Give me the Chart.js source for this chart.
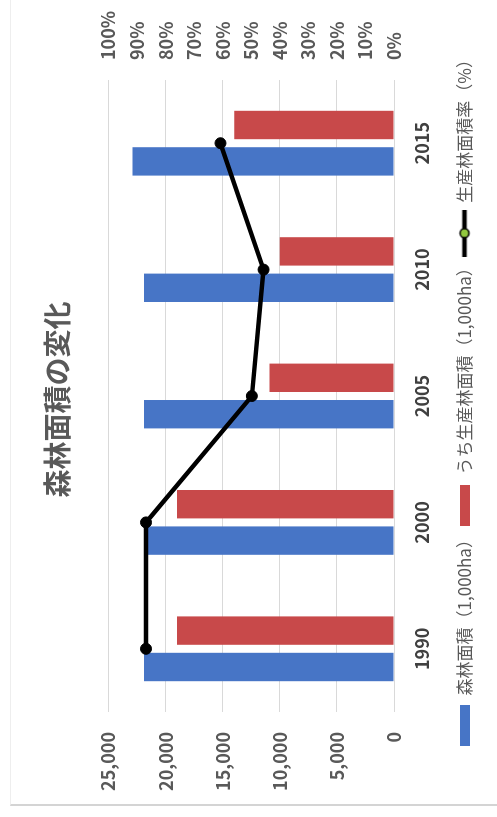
<!DOCTYPE html>
<html lang="ja">
<head>
    <meta charset="UTF-8">
    <meta name="viewport" content="width=device-width, initial-scale=1.0">
    <title>森林面積の変化</title>
    <script src="https://cdn.jsdelivr.net/npm/chart.js"></script>
    <style>
        html, body { margin: 0; padding: 0; width: 497px; height: 817px; overflow: hidden; background: #fff; }
        /* the chart is drawn landscape and turned a quarter turn to the left */
        #wrap { position: absolute; left: 0; top: 0; width: 817px; height: 497px;
                transform-origin: 0 0; transform: translate(0, 817px) rotate(-90deg); }
        #card { position: absolute; left: 11px; top: 10px; right: 0; bottom: 0;
                border-left: 2px solid #d4d4d4; border-top: 1px solid #eeeeee; }
        canvas { position: absolute; left: 0; top: 0; }
    </style>
</head>
<body>
    <div id="wrap">
        <div id="card"></div>
        <canvas id="forestChart" width="817" height="497"></canvas>
    </div>

    <script>
        // データ
        const years = ['1990', '2000', '2005', '2010', '2015'];
        const forestArea = [21900, 21900, 21900, 21900, 22900];      // 森林面積 (1,000ha)
        const productionArea = [19000, 19000, 10900, 10000, 14000];  // うち生産林面積 (1,000ha)
        const productionRate = [86.9, 86.9, 49.8, 45.7, 60.8];       // 生産林面積率 (%)

        const BLUE = '#4775C6';
        const RED = '#C8494A';
        const GRAY = '#595959';

        Chart.defaults.font.family = "'Noto Sans CJK JP', 'Noto Sans', sans-serif";

        // 凡例のマーカー
        function boxIcon(color) {
            const c = document.createElement('canvas');
            c.width = 41; c.height = 10;
            const g = c.getContext('2d');
            g.fillStyle = color;
            g.fillRect(0, 0, 41, 10);
            return c;
        }
        function lineIcon() {
            const c = document.createElement('canvas');
            c.width = 47; c.height = 14;
            const g = c.getContext('2d');
            g.strokeStyle = '#000';
            g.lineWidth = 4.5;
            g.beginPath(); g.moveTo(0, 7); g.lineTo(47, 7); g.stroke();
            g.beginPath(); g.arc(23.5, 7, 4.5, 0, Math.PI * 2);
            g.fillStyle = '#92C83E'; g.fill();
            g.lineWidth = 1.5; g.stroke();
            return c;
        }
        const icons = [boxIcon(BLUE), boxIcon(RED), lineIcon()];

        new Chart(document.getElementById('forestChart'), {
            type: 'bar',
            data: {
                labels: years,
                datasets: [{
                    label: '森林面積（1,000ha）',
                    data: forestArea,
                    backgroundColor: BLUE,
                    yAxisID: 'y',
                    order: 1,
                    categoryPercentage: 0.576,
                    barPercentage: 0.78
                }, {
                    label: 'うち生産林面積（1,000ha）',
                    data: productionArea,
                    backgroundColor: RED,
                    yAxisID: 'y',
                    order: 1,
                    categoryPercentage: 0.576,
                    barPercentage: 0.78
                }, {
                    type: 'line',
                    label: '生産林面積率（%）',
                    data: productionRate,
                    yAxisID: 'y2',
                    order: 0,
                    borderColor: '#000',
                    borderWidth: 4.5,
                    tension: 0,
                    pointRadius: 5.5,
                    pointBackgroundColor: '#000',
                    pointBorderColor: '#000',
                    pointBorderWidth: 1
                }]
            },
            options: {
                responsive: false,
                animation: false,
                layout: { padding: { left: 18, right: 0, top: 0, bottom: 14 } },
                plugins: {
                    title: {
                        display: true,
                        text: '森林面積の変化',
                        color: GRAY,
                        font: { size: 28, weight: 'bold' },
                        padding: { top: 41, bottom: 34 }
                    },
                    legend: {
                        position: 'bottom',
                        labels: {
                            usePointStyle: true,
                            pointStyleWidth: 44,
                            padding: 4,
                            color: GRAY,
                            font: { size: 17 },
                            generateLabels: chart => chart.data.datasets.map((ds, i) => ({
                                text: ds.label,
                                pointStyle: icons[i],
                                fontColor: GRAY,
                                lineWidth: 0,
                                hidden: false,
                                datasetIndex: i
                            }))
                        }
                    },
                    tooltip: { enabled: false }
                },
                scales: {
                    x: {
                        grid: { display: false, drawTicks: false },
                        border: { display: false },
                        ticks: { padding: 17, color: '#404040', font: { size: 18, weight: 'bold' } },
                        afterFit: s => { s.height = 58; }
                    },
                    y: {
                        position: 'left',
                        min: 0,
                        max: 25000,
                        grid: { color: '#d9d9d9', drawTicks: false },
                        border: { display: false },
                        ticks: {
                            stepSize: 5000,
                            padding: 20,
                            color: GRAY,
                            font: { size: 18, weight: 'bold' },
                            callback: v => v.toLocaleString('en-US')
                        },
                        afterFit: s => { s.width = 87; }
                    },
                    y2: {
                        position: 'right',
                        min: 0,
                        max: 100,
                        grid: { display: false, drawTicks: false },
                        border: { display: false },
                        ticks: {
                            stepSize: 10,
                            padding: 20,
                            color: GRAY,
                            font: { size: 18, weight: 'bold' },
                            callback: v => v + '%'
                        },
                        afterFit: s => { s.width = 80; }
                    }
                }
            }
        });
    </script>
</body>
</html>
